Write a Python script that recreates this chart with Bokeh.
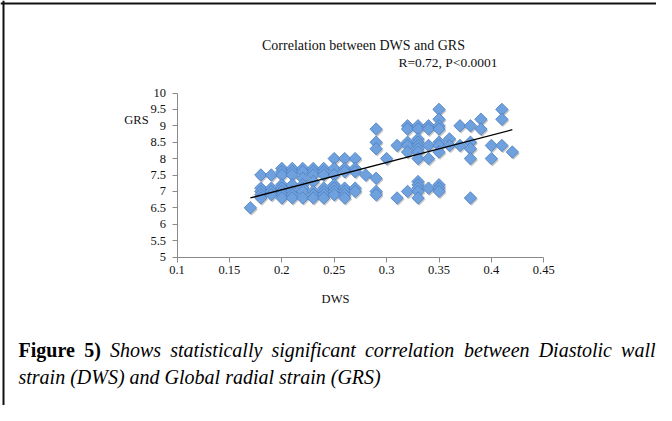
from bokeh.plotting import figure
from bokeh.models import Range1d, FixedTicker, Label, ColumnDataSource, Span
from bokeh.embed import file_html
from bokeh.resources import INLINE
import numpy as np

# ---- data ----
dws = ([0.17] + [0.18] * 5 + [0.19] * 4 + [0.20] * 8 + [0.21] * 7 + [0.22] * 7 + [0.23] * 7
       + [0.24] * 7 + [0.25] * 7 + [0.26] * 7 + [0.27] * 5 + [0.28] + [0.29] * 6 + [0.30]
       + [0.31] * 2 + [0.32] * 6 + [0.33] * 13 + [0.34] * 5 + [0.35] * 10 + [0.36] * 2
       + [0.37] * 2 + [0.38] * 5 + [0.39] * 2 + [0.40] * 2 + [0.41] * 3 + [0.42])
grs = ([6.5]
       + [7.5, 7.1, 7.0, 6.9, 6.8]
       + [7.5, 7.1, 7.0, 6.9]
       + [7.7, 7.6, 7.5, 7.2, 7.1, 7.0, 6.9, 6.8]
       + [7.7, 7.6, 7.5, 7.2, 7.0, 6.9, 6.8]
       + [7.7, 7.6, 7.4, 7.2, 7.1, 7.0, 6.8]
       + [7.7, 7.6, 7.5, 7.3, 7.0, 6.9, 6.8]
       + [7.7, 7.6, 7.5, 7.1, 7.0, 6.9, 6.8]
       + [8.0, 7.7, 7.5, 7.2, 7.1, 7.0, 6.9]
       + [8.0, 7.7, 7.6, 7.1, 7.0, 6.9, 6.8]
       + [8.0, 7.7, 7.6, 7.1, 7.0]
       + [7.5]
       + [8.9, 8.5, 8.3, 7.4, 7.0, 6.9]
       + [8.0]
       + [8.4, 6.8]
       + [9.0, 8.9, 8.5, 8.4, 8.2, 7.0]
       + [9.0, 8.9, 8.6, 8.5, 8.4, 8.3, 8.2, 8.0, 7.3, 7.2, 7.1, 7.0, 6.8]
       + [9.0, 8.9, 8.4, 8.0, 7.1]
       + [9.5, 9.2, 9.0, 8.9, 8.5, 8.4, 8.2, 7.2, 7.1, 7.0]
       + [8.6, 8.4]
       + [9.0, 8.4]
       + [9.0, 8.5, 8.3, 8.0, 6.8]
       + [9.2, 8.9]
       + [8.4, 8.0]
       + [9.5, 9.2, 8.4]
       + [8.2])

trend_x = [0.17, 0.42]
trend_y = [6.80, 8.88]

x_ticks = [0.1, 0.15, 0.2, 0.25, 0.3, 0.35, 0.4, 0.45]
x_tick_labels = ["0.1", "0.15", "0.2", "0.25", "0.3", "0.35", "0.4", "0.45"]
y_ticks = [5, 5.5, 6, 6.5, 7, 7.5, 8, 8.5, 9, 9.5, 10]
y_tick_labels = ["5", "5.5", "6", "6.5", "7", "7.5", "8", "8.5", "9", "9.5", "10"]

title_text = "Correlation between DWS and GRS"
subtitle_text = "R=0.72, P<0.0001"
x_label = "DWS"
y_label = "GRS"
caption_bold_words = ["Figure", "5)"]
caption_words = ["Shows", "statistically", "significant", "correlation", "between", "Diastolic", "wall"]
caption_line2 = "strain (DWS) and Global radial strain (GRS)"

# ---- layout geometry (canvas pixels) ----
W, H = 656, 405
X0_PX, X_PER_UNIT = 176.5, 1048.0     # canvas x of DWS=0.1, pixels per DWS unit
Y0_PX, Y_PER_UNIT = 256.5, 32.8       # canvas y of GRS=5, pixels per GRS unit


def dx(px):
    return 0.1 + (px - X0_PX) / X_PER_UNIT


def dy(py):
    return 5 + (Y0_PX - py) / Y_PER_UNIT


SERIF = "Liberation Serif"
p = figure(width=W, height=H, output_backend="svg", toolbar_location=None,
           x_range=Range1d(dx(0), dx(W)), y_range=Range1d(dy(H), dy(0)),
           min_border=0, min_border_left=0, min_border_right=0,
           min_border_top=0, min_border_bottom=0)
p.background_fill_color = "white"
p.border_fill_color = "white"
p.outline_line_color = None
p.grid.visible = False

for ax in (p.xaxis[0], p.yaxis[0]):
    ax.axis_line_color = "#8a8a8a"
    ax.axis_line_width = 1
    ax.major_tick_line_color = "#8a8a8a"
    ax.major_tick_out = 5
    ax.major_tick_in = 0
    ax.minor_tick_line_color = None
    ax.major_label_text_font = SERIF
    ax.major_label_text_font_size = "12.5px"
    ax.major_label_text_color = "#111"

p.xaxis[0].ticker = FixedTicker(ticks=x_ticks)
p.xaxis[0].major_label_overrides = dict(zip(x_ticks, x_tick_labels))
p.xaxis[0].major_label_standoff = 4
p.xaxis[0].bounds = (x_ticks[0], x_ticks[-1])
p.xaxis[0].fixed_location = y_ticks[0]
p.yaxis[0].ticker = FixedTicker(ticks=y_ticks)
p.yaxis[0].major_label_overrides = dict(zip(y_ticks, y_tick_labels))
p.yaxis[0].major_label_standoff = 6
p.yaxis[0].bounds = (y_ticks[0], y_ticks[-1])
p.yaxis[0].fixed_location = x_ticks[0]

# page border (left, top)
p.add_layout(Span(location=dx(3), dimension="height", line_color="#111", line_width=2))
p.add_layout(Span(location=dy(3), dimension="width", line_color="#111", line_width=2))

# points
src = ColumnDataSource(dict(x=dws, y=grs))
shadow = ColumnDataSource(dict(x=[v + 1.2 / X_PER_UNIT for v in dws],
                               y=[v - 1.6 / Y_PER_UNIT for v in grs]))
p.scatter("x", "y", source=shadow, marker="square", angle=np.pi / 4, size=8.8,
          fill_color="#7f7f7f", fill_alpha=0.45, line_color=None)
p.scatter("x", "y", source=src, marker="square", angle=np.pi / 4, size=8.8,
          fill_color="#6FA1DE", line_color="#4C7FC0", line_width=0.8)

p.line(trend_x, trend_y, line_color="black", line_width=1.3)


def lab(text, px, py, size, align="left", baseline="middle", style="normal", color="#111"):
    p.add_layout(Label(x=dx(px), y=dy(py), text=text,
                       text_font=SERIF, text_font_size=size, text_align=align,
                       text_baseline=baseline, text_font_style=style, text_color=color))


lab(title_text, 363, 45, "14px", align="center")
lab(subtitle_text, 447.5, 62, "13.5px", align="center")
lab(y_label, 136, 119, "12.5px", align="center")
lab(x_label, 335, 298, "12.5px", align="center")

# justified first caption line (approximate Times metrics, per 1000 em)
ITALIC = dict(S=500, h=500, o=500, w=667, s=389, t=278, a=500, i=278, c=444, l=278, y=444,
              g=500, n=500, f=278, r=389, e=444, b=500, D=722)
BOLD = {"F": 611, "i": 278, "g": 500, "u": 556, "r": 444, "e": 444, "5": 500, ")": 333}
FS = 20
LINE_L, LINE_R, BASE1, BASE2 = 18, 655, 349.5, 376
items = [(w, "bold", BOLD) for w in caption_bold_words] + [(w, "italic", ITALIC) for w in caption_words]
widths = [sum(tab.get(ch, 500) for ch in w) * FS / 1000 for w, _, tab in items]
gap = (LINE_R - LINE_L - sum(widths)) / (len(items) - 1)
xpos = LINE_L
for (w, style, _), wd in zip(items, widths):
    lab(w, xpos, BASE1, f"{FS}px", baseline="alphabetic", style=style, color="#000")
    xpos += wd + gap
lab(caption_line2, LINE_L, BASE2, f"{FS}px", baseline="alphabetic", style="italic", color="#000")

open("out.html", "w").write(file_html(p, INLINE))
